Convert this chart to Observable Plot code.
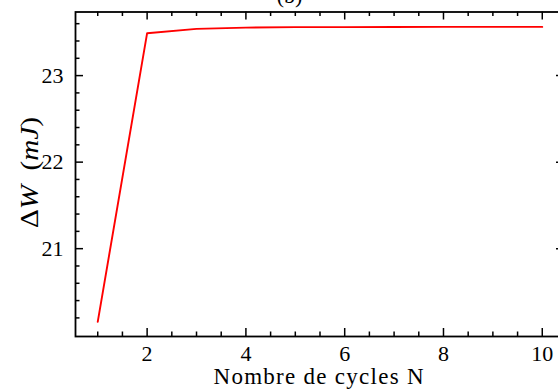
<!DOCTYPE html>
<html><head><meta charset="utf-8">
<script src="https://cdn.jsdelivr.net/npm/d3@7"></script>
<script src="https://cdn.jsdelivr.net/npm/@observablehq/plot@0.6"></script>
<style>
html,body{margin:0;padding:0;background:#fff;overflow:hidden;width:558px;height:392px}
#chart{position:relative;width:558px;height:392px;overflow:hidden}
#chart svg{overflow:visible;max-width:none !important;width:566px;height:392px;font-family:'Liberation Serif',serif !important}
#chart svg text, #chart svg g{font-family:'Liberation Serif',serif !important;font-variant:normal !important}
</style></head><body><div id="chart"></div>
<script>
const cycles = [1, 2, 3, 4, 5, 6, 7, 8, 9, 10];
const deltaW = [20.155, 23.49, 23.54, 23.555, 23.56, 23.56, 23.562, 23.563, 23.563, 23.563];
const xTicks = [2, 4, 6, 8, 10];
const yTicks = [21, 22, 23];
const xMinor = [1, 1.5, 2.5, 3, 3.5, 4.5, 5, 5.5, 6.5, 7, 7.5, 8.5, 9, 9.5];
const yMinor = [20.2, 20.4, 20.6, 20.8, 21.2, 21.4, 21.6, 21.8, 22.2, 22.4, 22.6, 22.8, 23.2, 23.4, 23.6];
const title = "(b)";
const xLabel = "Nombre de cycles N";

const data = cycles.map((n, i) => ({n, w: deltaW[i]}));
const W = 566, H = 392, mL = 75, mR = 2, mT = 11.5, mB = 56;
const innerW = W - mL - mR, innerH = H - mT - mB;
const font = "Liberation Serif";
const tickStyle = {stroke: "black", strokeWidth: 1.5};
const lbl = {fontSize: 22, fontFamily: font, fill: "black", fontVariant: "normal"};

const chart = Plot.plot({
  width: W, height: H,
  marginLeft: mL, marginRight: mR, marginTop: mT, marginBottom: mB,
  style: {fontFamily: font, fontSize: "22px", background: "white", color: "black", maxWidth: "none"},
  x: {domain: [0.55, 10.45], axis: null},
  y: {domain: [19.985, 23.735], axis: null},
  marks: [
    Plot.line(data, {x: "n", y: "w", stroke: "red", strokeWidth: 1.9}),
    // bottom / top x ticks
    Plot.tickX(xTicks, {x: d => d, insetTop: innerH - 8, ...tickStyle}),
    Plot.tickX(xTicks, {x: d => d, insetBottom: innerH - 8, ...tickStyle}),
    Plot.tickX(xMinor, {x: d => d, insetTop: innerH - 4.5, ...tickStyle}),
    Plot.tickX(xMinor, {x: d => d, insetBottom: innerH - 4.5, ...tickStyle}),
    // left / right y ticks
    Plot.tickY(yTicks, {y: d => d, insetRight: innerW - 8, ...tickStyle}),
    Plot.tickY(yTicks, {y: d => d, insetLeft: innerW - 8, ...tickStyle}),
    Plot.tickY(yMinor, {y: d => d, insetRight: innerW - 4.5, ...tickStyle}),
    Plot.tickY(yMinor, {y: d => d, insetLeft: innerW - 4.5, ...tickStyle}),
    // tick labels
    Plot.text(xTicks, {x: d => d, text: d => String(d), frameAnchor: "bottom", lineAnchor: "top", dy: 9, ...lbl}),
    Plot.text(yTicks, {y: d => d, text: d => String(d), frameAnchor: "left", textAnchor: "end", dx: -12, ...lbl}),
    Plot.text([title], {text: d => d, frameAnchor: "top", dx: -30.5, dy: -25, ...lbl}),
    Plot.frame({stroke: "black", strokeWidth: 1.8})
  ]
});

const svg = d3.select(chart);
svg.append("text")
  .attr("x", mL + innerW / 2 - 1)
  .attr("y", 384)
  .attr("text-anchor", "middle")
  .attr("font-family", font)
  .attr("font-size", 23)
  .attr("textLength", 210)
  .attr("lengthAdjust", "spacing")
  .attr("fill", "black")
  .text(xLabel);

const yl = svg.append("text")
  .attr("transform", "translate(38,172.5) rotate(-90)")
  .attr("text-anchor", "middle")
  .attr("font-family", font)
  .attr("font-size", 26)
  .attr("textLength", 111)
  .attr("lengthAdjust", "spacingAndGlyphs")
  .attr("fill", "black");
yl.append("tspan").text("\u0394");
yl.append("tspan").attr("font-style", "italic").text("W");
yl.append("tspan").text("\u2002(");
yl.append("tspan").attr("font-style", "italic").text("mJ");
yl.append("tspan").text(")");

document.getElementById("chart").appendChild(chart);
</script></body></html>
